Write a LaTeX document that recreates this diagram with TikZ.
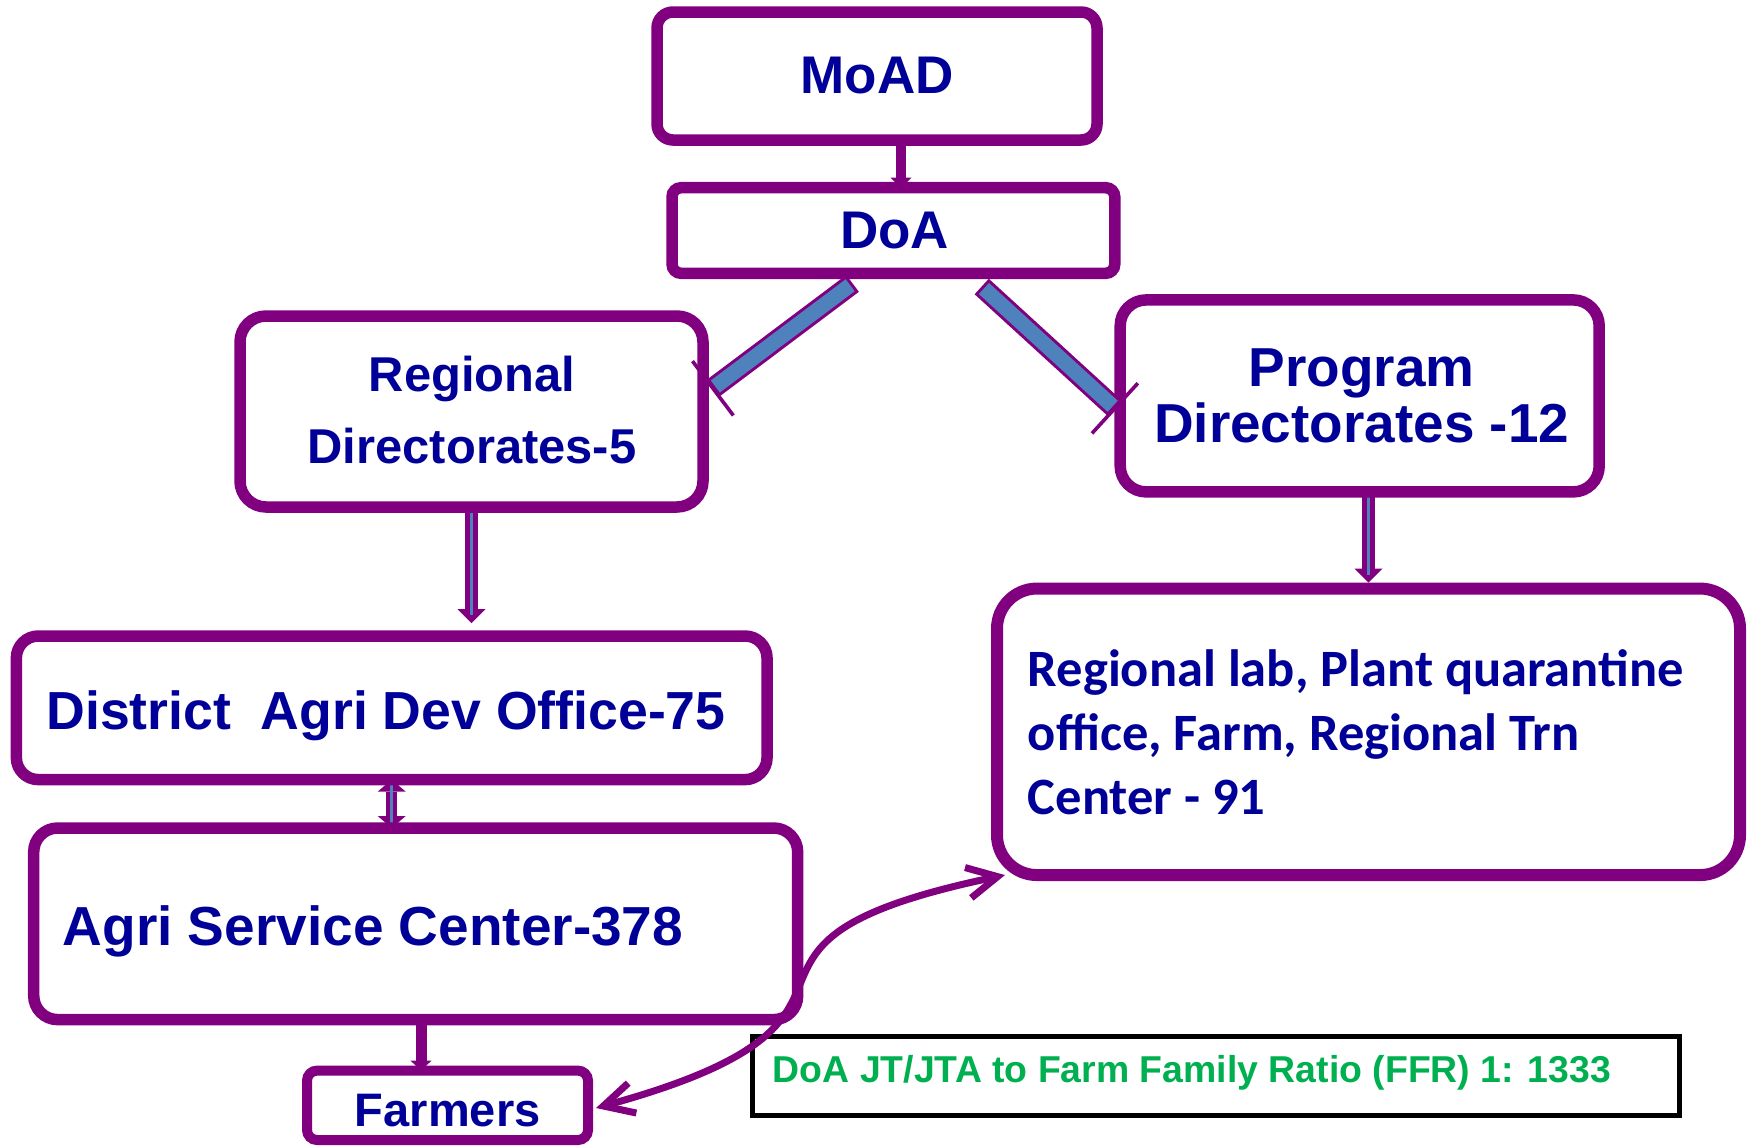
\documentclass[tikz,border=0pt]{standalone}
\usepackage{fontspec}
\setmainfont{Liberation Sans}
\newfontfamily\carl{Carlito}
\usetikzlibrary{arrows.meta,calc}
\definecolor{pur}{RGB}{128,0,128}
\definecolor{dblue}{RGB}{0,0,153}
\definecolor{barblue}{RGB}{79,129,189}
\definecolor{ggreen}{RGB}{0,176,80}
\pgfdeclarelayer{bg}
\pgfsetlayers{bg,main}
\begin{document}
\begin{tikzpicture}[x=0.5pt,y=-0.5pt,
  box/.style={draw=pur, line width=5.75pt, fill=white, rounded corners=#1, inner sep=0pt, outer sep=0pt},
  box/.default=8pt,
  txt/.style={text=dblue, inner sep=0pt, font=\fontsize{#1}{#1}\selectfont\bfseries},
  labtxt/.style={text=dblue, inner sep=0pt, anchor=base west, font=\carl\fontsize{26.25pt}{32pt}\selectfont\bfseries},
  conn/.style={draw=pur, line width=#1},
  bluecore/.style={draw=barblue, line width=1.35pt},
  bighead/.style={-{Triangle[length=7pt 0 0, width=14pt 0 0, line width=0pt 0 0]}},
  smallhead/.style={-{Triangle[length=5pt 0 0, width=10.5pt 0 0, line width=0pt 0 0]}},
  twohead/.style={{Triangle[length=6pt 0 0, width=14pt 0 0, line width=0pt 0 0]}-{Triangle[length=6pt 0 0, width=14pt 0 0, line width=0pt 0 0]}},
  thickbar/.style={draw=pur, line width=10.5pt},
  thickbarin/.style={draw=barblue, line width=7.5pt, shorten <=1.5pt, shorten >=1.5pt},
  tick/.style={draw=pur, line width=1.8pt},
  barb/.style={{Straight Barb[length=15pt 0 0, width=15.5pt 0 0]}-{Straight Barb[length=15pt 0 0, width=15.5pt 0 0]}}
]
\useasboundingbox (0,0) rectangle (1752,1147);

% boxes
\node[box=8pt, minimum width=220pt, minimum height=64pt] (moad) at (877,76) {};
\node[box=4.5pt, minimum width=221.35pt, minimum height=42.8pt] (doa) at (893.4,230.5) {};
\node[box=13pt, minimum width=231.5pt, minimum height=95.5pt] (reg) at (471.5,411.5) {};
\node[box=13pt, minimum width=239.5pt, minimum height=96pt] (prog) at (1359.7,395.9) {};
\node[box=11pt, minimum width=375.35pt, minimum height=71.8pt] (dist) at (391.7,707.8) {};
\node[box=12pt, minimum width=382pt, minimum height=95.8pt] (agri) at (415.7,923.8) {};
\node[box=5pt, line width=5pt, minimum width=140.5pt, minimum height=34.7pt] (farm) at (447.5,1105.3) {};
\node[box=20pt, line width=6pt, minimum width=371.5pt, minimum height=143.25pt] (lab) at (1368.5,731.8) {};
\node[draw=black, line width=2.5pt, inner sep=0pt, outer sep=0pt, minimum width=463.5pt, minimum height=39.5pt] (ratio) at (1215.5,1075.5) {};

% texts
\node[txt=26.5pt, anchor=base] (moadt) at (877,93.3) {MoAD};
\node[txt=26.5pt, anchor=base] (doat) at (894.7,248.3) {DoA};
\node[txt=24.45pt, anchor=base] (reg1) at (472,391.7) {Regional};
\node[txt=24.45pt, anchor=base] (reg2) at (472,463.3) {Directorates-5};
\node[txt=27.45pt, anchor=base] (prog1) at (1361.7,386) {Program};
\node[txt=27.45pt, anchor=base] (prog2) at (1361.7,442.7) {Directorates -12};
\node[txt=26.8pt, anchor=base west] (distt) at (46,729) {District\ \ Agri Dev Office-75};
\node[txt=27.5pt, anchor=base west] (agrit) at (62.3,945) {Agri Service Center-378};
\node[txt=23.5pt, anchor=base] (farmt) at (447.7,1126) {Farmers};
\node[labtxt] (lab1) at (1027.5,686.4) {Regional lab, Plant quarantine};
\node[labtxt] (lab2) at (1027.5,750) {office, Farm, Regional Trn};
\node[labtxt] (lab3) at (1027.5,814) {Center - 91};
\node[text=ggreen, inner sep=0pt, anchor=base west, font=\fontsize{18.7pt}{18.7pt}\selectfont\bfseries] (ratiot) at (772.5,1082) {DoA JT/JTA to Farm Family Ratio (FFR) 1: 1333};

% straight connectors behind the boxes
\begin{pgfonlayer}{bg}
\coordinate (m1) at ($(moad.south)+(24,0)$);
\draw[conn=5pt, smallhead] (m1) -- (m1 |- doa.north);
\draw[conn=6.35pt, bighead] (reg.south) -- ($(reg.south |- dist.north)+(0,-13)$);
\draw[bluecore] (reg.south) -- ($(reg.south |- dist.north)+(0,-21)$);
\coordinate (p1) at (prog.south -| lab.north);
\draw[conn=6.6pt, bighead, shorten >=3pt] (p1) -- (lab.north);
\draw[bluecore] (p1) -- ($(lab.north)+(0,-14)$);
\draw[conn=5.35pt, twohead] (dist.south) -- (dist.south |- agri.north);
\draw[bluecore] (dist.south) -- (dist.south |- agri.north);
\coordinate (a1) at ($(agri.south)+(5.3,0)$);
\draw[conn=5.5pt, smallhead] (a1) -- (a1 |- farm.north);
\end{pgfonlayer}

% thick bars from DoA
\coordinate (lb1) at ($(doa.south)+(-40.8,10.1)$);
\coordinate (lb2) at ($(reg.east)+(9.9,-23.2)$);
\coordinate (rb1) at ($(doa.south)+(88.3,13.2)$);
\coordinate (rb2) at ($(prog.west)+(-5.3,12.4)$);
\draw[thickbar] (lb1) -- (lb2);
\draw[thickbarin] (lb1) -- (lb2);
\draw[tick] ($(lb2)!17pt!90:(lb1)$) -- ($(lb2)!17pt!-90:(lb1)$);
\draw[thickbar] (rb1) -- (rb2);
\draw[thickbarin] (rb1) -- (rb2);
\draw[tick] ($(rb2)!17pt!90:(rb1)$) -- ($(rb2)!17pt!-90:(rb1)$);

% curved double arrow
\coordinate (c1) at ($(farm.east)+(8,2.7)$);
\coordinate (c2) at ($(lab.south west)+(8,0)$);
\draw[conn=3.5pt, barb] (c1) .. controls +(336,-92) and +(-336,70) .. (c2);
\end{tikzpicture}
\end{document}
